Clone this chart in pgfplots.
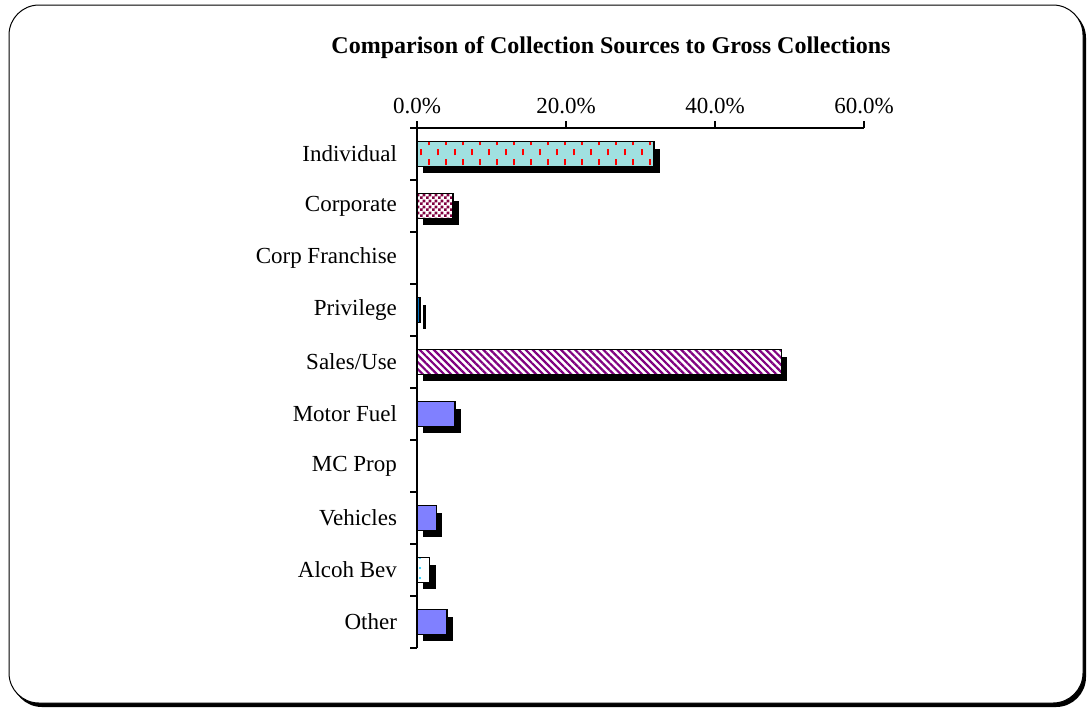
\documentclass[border=0pt]{standalone}
\usepackage{pgfplots}
\pgfplotsset{compat=1.18}
\usepackage{fontspec}
\setmainfont{Liberation Serif}
\usetikzlibrary{patterns,patterns.meta}

\definecolor{indfill}{RGB}{160,224,224}
\definecolor{corpc}{RGB}{128,0,64}
\definecolor{salesc}{RGB}{128,0,128}
\definecolor{motorc}{RGB}{128,128,255}
\definecolor{privc}{RGB}{0,112,192}
\definecolor{alcc}{RGB}{0,204,255}

\pgfdeclarepatternformonly{reddash}{\pgfpoint{-1pt}{-1pt}}{\pgfpoint{9.5pt}{11pt}}{\pgfpoint{8.5pt}{10pt}}{%
  \pgfsetlinewidth{1pt}%
  \pgfpathmoveto{\pgfpoint{2pt}{1.35pt}}\pgfpathlineto{\pgfpoint{2pt}{4.65pt}}%
  \pgfpathmoveto{\pgfpoint{6.25pt}{6.35pt}}\pgfpathlineto{\pgfpoint{6.25pt}{9.65pt}}%
  \pgfusepath{stroke}}
\pgfdeclarepatternformonly{checker}{\pgfpointorigin}{\pgfpoint{3pt}{3pt}}{\pgfpoint{3pt}{3pt}}{%
  \pgfpathrectangle{\pgfpointorigin}{\pgfpoint{1.5pt}{1.5pt}}%
  \pgfpathrectangle{\pgfpoint{1.5pt}{1.5pt}}{\pgfpoint{1.5pt}{1.5pt}}%
  \pgfusepath{fill}}

\begin{document}
\begin{tikzpicture}
\path (0,0) rectangle (545pt,-354pt);
% frame with shadow
\fill[black, rounded corners=15pt] (6pt,-4pt) rectangle (543pt,-353.5pt);
\draw[fill=white, line width=0.5pt, rounded corners=15pt] (4.5pt,-2.5pt) rectangle (541.5pt,-351.5pt);
\node[font=\bfseries\fontsize{12}{14}\selectfont] at (305.5pt,-24pt) {Comparison of Collection Sources to Gross Collections};
\begin{axis}[
  at={(208.5pt,-64pt)}, anchor=north west,
  width=223.5pt, height=260pt, scale only axis,
  xbar, bar width=0.48, bar shift=0pt,
  xmin=0, xmax=60, xtick={0,20,40,60},
  ymin=-0.5, ymax=9.5,
  ytick={-0.5,0.5,1.5,2.5,3.5,4.5,5.5,6.5,7.5,8.5,9.5},
  y tick label as interval,
  yticklabels={Other,Alcoh Bev,Vehicles,MC Prop,Motor Fuel,Sales/Use,Privilege,Corp Franchise,Corporate,Individual},
  axis x line*=top, axis y line*=left,
  axis line style={line width=1pt},
  tick style={line width=1pt, black},
  tick align=outside, major tick length=3.5pt,
  axis on top, clip=false,
  /pgf/number format/assume math mode=true,
  xticklabel={\pgfmathprintnumber[fixed,fixed zerofill,precision=1]{\tick}\%},
  ticklabel style={font=\fontsize{11.5}{13}\selectfont},
  yticklabel style={xshift=-3pt},
  shadow/.style={preaction={fill=black, draw=none, transform canvas={xshift=3pt,yshift=-3.5pt}}},
  every axis plot/.append style={draw=black, line width=0.75pt, shadow},
]
\addplot[fill=indfill, postaction={pattern=reddash, pattern color=red}] coordinates {(31.8,9)};
\addplot[fill=white, postaction={pattern=checker, pattern color=corpc}] coordinates {(4.8,8)};
\addplot[fill=privc] coordinates {(0.4,6)};
\addplot[fill=white, postaction={pattern={Lines[angle=-45,distance=2.5pt,line width=1.1pt]}, pattern color=salesc}] coordinates {(48.9,5)};
\addplot[fill=motorc] coordinates {(5.1,4)};
\addplot[fill=motorc] coordinates {(2.6,2)};
\addplot[fill=white, postaction={pattern={Dots[distance=5pt,radius=0.6pt]}, pattern color=alcc}] coordinates {(1.7,1)};
\addplot[fill=motorc] coordinates {(4.0,0)};
\end{axis}
\end{tikzpicture}
\end{document}
